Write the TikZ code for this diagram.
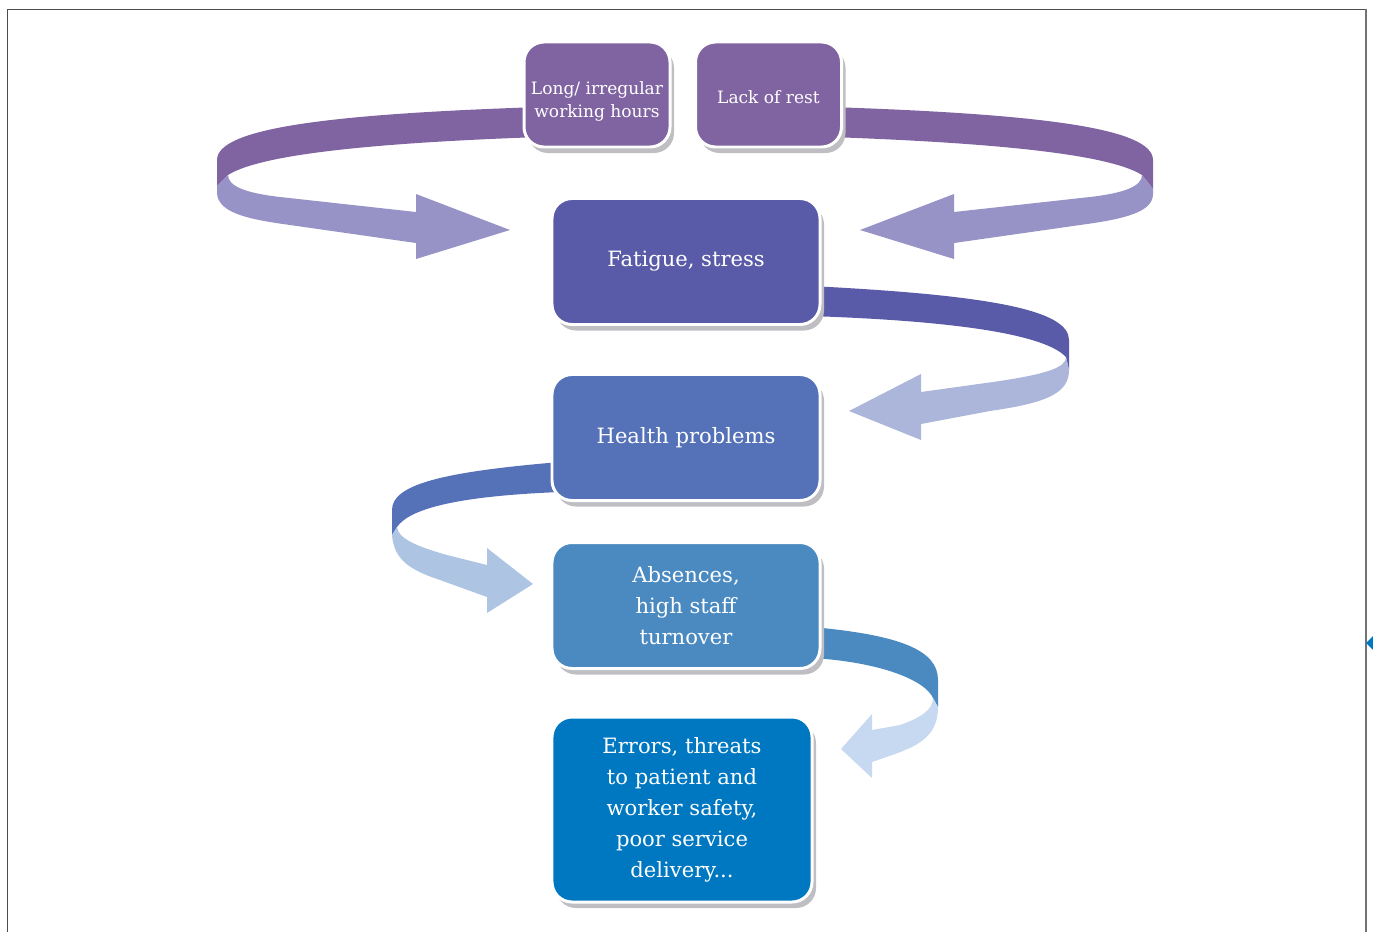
\documentclass[tikz,border=0pt]{standalone}
\usepackage{fontspec}
\setmainfont{DejaVu Serif}
\usetikzlibrary{shadows, backgrounds}

\definecolor{purpleDark}{HTML}{8064A2}
\definecolor{purpleLight}{HTML}{9793C6}
\definecolor{fatigueDark}{HTML}{5A5BA8}
\definecolor{fatigueLight}{HTML}{ACB5DA}
\definecolor{healthDark}{HTML}{5572B8}
\definecolor{healthLight}{HTML}{ADC4E2}
\definecolor{absenceDark}{HTML}{4A8AC1}
\definecolor{absenceLight}{HTML}{C6D9F0}
\definecolor{errorBlue}{HTML}{0078C1}
\definecolor{shadowGray}{HTML}{BEBEC3}

\begin{document}
\begin{tikzpicture}[
    x=0.2mm, y=-0.2mm,
    every node/.style={text=white, align=center},
    card/.style={rectangle, rounded corners=4mm, draw=white, line width=1.7pt,
        inner sep=2pt, outer sep=0pt,
        drop shadow={shadow xshift=0.8mm, shadow yshift=-1.2mm, fill=shadowGray, opacity=1}},
    cause/.style={card, fill=purpleDark, minimum width=29.2mm, minimum height=21mm,
        font=\fontsize{9.7}{13}\selectfont},
    effect/.style={card, minimum width=53.6mm, minimum height=25.2mm,
        font=\fontsize{12}{17.6}\selectfont}
]
\useasboundingbox (0,0) rectangle (1373,932);

% ============ FRAME ============
\draw[black!70, line width=0.5pt] (7,932) -- (7,9) -- (1366,9);
\draw[black!55, line width=1pt] (1366,9) -- (1366,932);
\fill[errorBlue] (1373,636) -- (1366,643) -- (1373,650) -- cycle;

% ============ BOXES ============
\node[cause, text height=28.5pt] (hours) at (597,94.5) {Long/ irregular\\working hours};
\node[cause, text height=10pt] (rest) at (768.5,94.5) {Lack of rest};
\node[effect, fill=fatigueDark] (fatigue) at (686,261.5) {Fatigue, stress};
\node[effect, fill=healthDark] (health) at (686,437.5) {Health problems};
\node[effect, fill=absenceDark] (absence) at (686,605.5) {Absences,\\high staff\\turnover};
\node[effect, fill=errorBlue, minimum width=52mm, minimum height=37mm] (errors) at (682,809.5)
    {Errors, threats\\to patient and\\worker safety,\\poor service\\delivery...};

% ============ RIBBON ARROWS ============
\begin{pgfonlayer}{background}
% hours -> fatigue
\fill[purpleDark] (540,107) .. controls (330,114) and (217,128) .. (217,160) -- (217,186)
    -- (228,175) .. controls (255,158) and (340,144) .. (540,137) -- cycle;
\fill[purpleLight] (217,186) -- (217,192) .. controls (217,212) and (245,219) .. (290,225)
    -- (416,243) -- (416,259) -- (510,230) -- (416,194) -- (416,212) -- (280,197)
    .. controls (245,193) and (228,186) .. (228,175) -- cycle;

% rest -> fatigue
\fill[purpleDark] (830,107) .. controls (1040,114) and (1153,128) .. (1153,160) -- (1153,189)
    -- (1142,175) .. controls (1115,158) and (1030,144) .. (830,137) -- cycle;
\fill[purpleLight] (1153,189) -- (1153,194) .. controls (1153,212) and (1125,219) .. (1080,225)
    -- (954,243) -- (954,259) -- (860,230) -- (954,194) -- (954,212) -- (1090,197)
    .. controls (1125,193) and (1142,186) .. (1142,175) -- cycle;

% fatigue -> health
\fill[fatigueDark] (810,286) .. controls (990,295) and (1069,310) .. (1069,340) -- (1069,370)
    -- (1066,357) .. controls (1050,340) and (990,322) .. (810,316) -- cycle;
\fill[fatigueLight] (1069,370) .. controls (1069,394) and (1045,403) .. (990,411)
    -- (921,424) -- (921,440) -- (849,411) -- (921,374) -- (921,392) -- (1000,381)
    .. controls (1045,374) and (1066,368) .. (1066,357) -- cycle;

% health -> absence
\fill[healthDark] (560,462) .. controls (440,472) and (392,485) .. (392,510) -- (392,535)
    -- (397,527) .. controls (410,508) and (460,496) .. (560,492) -- cycle;
\fill[healthLight] (392,535) .. controls (394,560) and (410,570) .. (440,580)
    -- (487,597) -- (487,613) -- (533,584) -- (487,548) -- (487,565) -- (447,555)
    .. controls (415,546) and (398,538) .. (397,527) -- cycle;

% absence -> errors
\fill[absenceDark] (812,627) .. controls (900,635) and (938,650) .. (938,680) -- (938,707)
    -- (933,698) .. controls (925,680) and (880,662) .. (812,658) -- cycle;
\fill[absenceLight] (938,707) .. controls (938,735) and (920,745) .. (895,754)
    -- (872,762) -- (872,778) -- (841,749) -- (872,714) -- (872,730) -- (900,725)
    .. controls (920,718) and (933,710) .. (933,698) -- cycle;
\end{pgfonlayer}

\end{tikzpicture}
\end{document}
